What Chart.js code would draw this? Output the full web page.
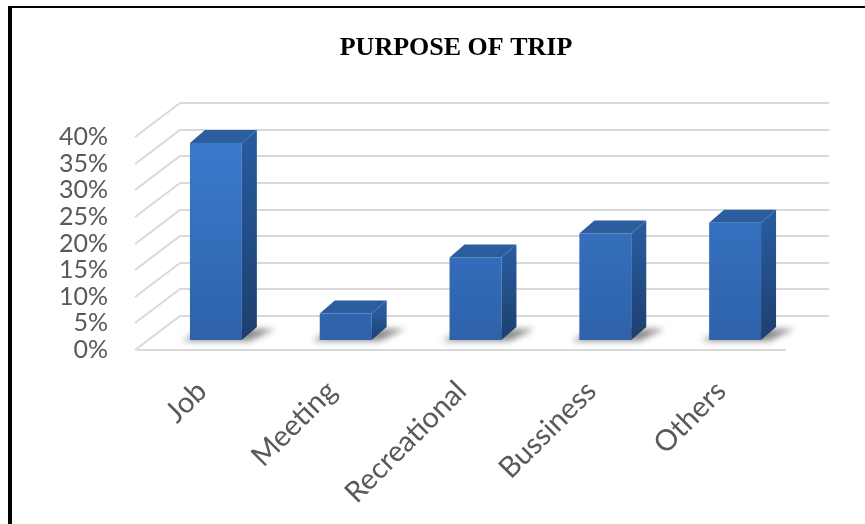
<!DOCTYPE html>
<html><head><meta charset="utf-8">
<script src="https://cdn.jsdelivr.net/npm/chart.js@4/dist/chart.umd.min.js"></script>
<style>
html,body{margin:0;padding:0;background:#fff;}
#wrap{position:relative;width:865px;height:524px;overflow:hidden;background:#fff;}
canvas{position:absolute;left:0;top:0;}
#bl{position:absolute;left:8px;top:6px;width:4px;height:518px;background:#000;}
#bt{position:absolute;left:8px;top:6px;width:857px;height:2px;background:#000;}
</style></head><body>
<div id="wrap"><canvas id="c" width="865" height="524"></canvas><div id="bl"></div><div id="bt"></div></div>
<script>
const categories = ['Job', 'Meeting', 'Recreational', 'Bussiness', 'Others'];
const shares = [37, 5, 15.5, 20, 22];
const yTicks = [0, 5, 10, 15, 20, 25, 30, 35, 40];
const chartTitle = 'PURPOSE OF TRIP';

const WALL = {dx: 43, dy: -34};
const BAR = {dx: 14, dy: -10};
const D = {dx: 15, dy: -13};
const TITLE_SPAN = {left: 126, right: 786};

const threeD = {
  id: 'threeD',
  afterLayout(chart) {
    const t = chart.titleBlock;
    if (t) { t.left = TITLE_SPAN.left; t.right = TITLE_SPAN.right; }
  },
  beforeDatasetsDraw(chart) {
    const {ctx, chartArea: a, scales: {y}} = chart;
    ctx.save();
    ctx.strokeStyle = '#d9d9d9';
    ctx.lineWidth = 2;
    yTicks.forEach(v => {
      const py = Math.round(y.getPixelForValue(v));
      ctx.beginPath();
      ctx.moveTo(a.left - 2, py);
      ctx.lineTo(a.left + WALL.dx, py + WALL.dy);
      ctx.lineTo(a.right + WALL.dx, py + WALL.dy);
      ctx.stroke();
    });
    const p0 = Math.round(y.getPixelForValue(0));
    ctx.beginPath(); ctx.moveTo(a.left, p0); ctx.lineTo(a.right, p0); ctx.stroke();
    ctx.restore();
    ctx.save();
    ctx.translate(BAR.dx, BAR.dy);
    const meta = chart.getDatasetMeta(0);
    ctx.save();
    ctx.filter = 'blur(3px)';
    ctx.fillStyle = 'rgba(0,0,0,0.45)';
    meta.data.forEach(bar => {
      const l = bar.x - bar.width / 2, r = bar.x + bar.width / 2, b = bar.base;
      ctx.beginPath();
      ctx.moveTo(l - 8, b + 1);
      ctx.lineTo(r + 8, b + 1);
      ctx.lineTo(r + D.dx + 18, b + D.dy + 2);
      ctx.lineTo(l + D.dx, b + D.dy + 2);
      ctx.closePath();
      ctx.fill();
    });
    ctx.restore();
  },
  afterDatasetsDraw(chart) {
    const {ctx} = chart;
    const meta = chart.getDatasetMeta(0);
    meta.data.forEach(bar => {
      const l = bar.x - bar.width / 2, r = bar.x + bar.width / 2, t = bar.y, b = bar.base;
      const sg = ctx.createLinearGradient(0, t, 0, b);
      sg.addColorStop(0, '#285a9c');
      sg.addColorStop(1, '#1d3f6e');
      ctx.fillStyle = sg;
      ctx.beginPath();
      ctx.moveTo(r, t); ctx.lineTo(r + D.dx, t + D.dy); ctx.lineTo(r + D.dx, b + D.dy); ctx.lineTo(r, b);
      ctx.closePath(); ctx.fill();
      ctx.fillStyle = '#2c5e9f';
      ctx.beginPath();
      ctx.moveTo(l, t); ctx.lineTo(l + D.dx, t + D.dy); ctx.lineTo(r + D.dx, t + D.dy); ctx.lineTo(r, t);
      ctx.closePath(); ctx.fill();
    });
    ctx.restore();
  }
};

new Chart(document.getElementById('c'), {
  type: 'bar',
  data: {
    labels: categories,
    datasets: [{
      data: shares,
      barPercentage: 0.5,
      categoryPercentage: 0.8,
      borderWidth: 0,
      clip: false,
      backgroundColor: c => {
        const ch = c.chart, a = ch.chartArea;
        if (!a) return '#3670c0';
        const g = ch.ctx.createLinearGradient(0, a.top, 0, a.bottom);
        g.addColorStop(0, '#3b7cce');
        g.addColorStop(1, '#2e62ab');
        return g;
      }
    }]
  },
  options: {
    responsive: false,
    animation: false,
    devicePixelRatio: 1,
    layout: {padding: {left: 20, right: 79, top: 0, bottom: 0}},
    plugins: {
      legend: {display: false},
      tooltip: {enabled: false},
      title: {
        display: true,
        text: chartTitle,
        color: '#000',
        font: {family: 'Liberation Serif', size: 26, weight: 'bold'},
        padding: {top: 33, bottom: 72.8}
      }
    },
    scales: {
      x: {
        grid: {display: false, drawTicks: false},
        border: {display: false},
        ticks: {color: '#595959', font: {family: 'Lato', size: 29}, minRotation: 45, maxRotation: 45, padding: 24, autoSkip: false},
        afterFit: s => { s.height = 174; s.paddingLeft = 0; s.paddingRight = 0; }
      },
      y: {
        min: yTicks[0], max: yTicks[yTicks.length - 1],
        grid: {display: false, drawTicks: false},
        border: {display: false},
        ticks: {color: '#595959', font: {family: 'Lato', size: 25}, padding: 29, stepSize: yTicks[1] - yTicks[0], autoSkip: false, callback: v => v + '%'},
        afterFit: s => { s.width = 117; s.paddingTop = 0; s.paddingBottom = 0; }
      }
    }
  },
  plugins: [threeD]
});
</script>
</body></html>
